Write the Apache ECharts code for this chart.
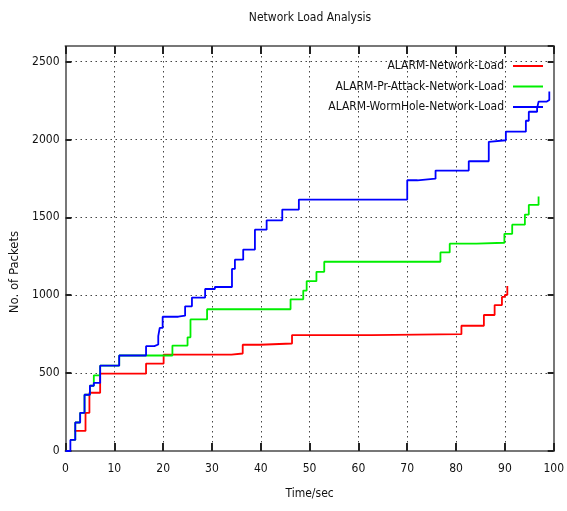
<!DOCTYPE html>
<html>
<head>
<meta charset="utf-8">
<script src="https://cdn.jsdelivr.net/npm/echarts@6/dist/echarts.min.js"></script>
<style>html,body{margin:0;padding:0;background:#fff}#c{width:567px;height:511px}</style>
</head>
<body>
<div id="c"></div>
<script>
const seriesNames = ['ALARM-Network-Load', 'ALARM-Pr-Attack-Network-Load', 'ALARM-WormHole-Network-Load'];
const xTicks = [0, 10, 20, 30, 40, 50, 60, 70, 80, 90, 100];
const yTicks = [0, 500, 1000, 1500, 2000, 2500];

const redT = [1.8, 4.1, 4.9, 7.1, 16.5, 20.1, 34.0, 36.3, 39.9, 46.4, 62.7, 81.1, 85.7, 87.9, 89.4, 90.0, 90.5];
const redV = [129, 245, 374, 497, 561, 619, 626, 682, 690, 744, 750, 804, 873, 937, 989, 1002, 1060];

const greenT = [1.0, 2.0, 3.0, 3.9, 5.0, 5.8, 7.1, 11.0, 21.9, 25.0, 25.6, 29.0, 46.1, 48.7, 49.4, 51.4, 53.0, 76.8, 78.7, 84.2, 89.9, 91.5, 94.1, 94.9, 96.9];
const greenV = [71, 183, 245, 361, 419, 486, 548, 613, 677, 730, 845, 910, 974, 1030, 1090, 1150, 1215, 1275, 1331, 1337, 1394, 1453, 1518, 1580, 1634];

const blueT = [0, 1.0, 2.0, 3.0, 3.9, 5.0, 5.8, 7.1, 11.0, 16.5, 18.2, 19.0, 19.3, 19.9, 23.1, 24.5, 25.9, 28.6, 30.6, 34.1, 34.7, 36.4, 38.8, 41.2, 44.4, 47.8, 70.0, 72.1, 75.8, 82.6, 86.7, 87.0, 90.2, 94.3, 94.9, 96.6, 96.9, 98.6, 99.1];
const blueV = [0, 71, 183, 245, 361, 419, 437, 548, 613, 673, 684, 737, 790, 862, 869, 929, 985, 1040, 1053, 1169, 1228, 1293, 1421, 1481, 1550, 1614, 1738, 1748, 1800, 1860, 1985, 1995, 2050, 2120, 2178, 2200, 2243, 2254, 2308];

const pair = (t, v) => t.map((x, i) => [x, v[i]]);
const FONT = '"DejaVu Sans Condensed", "Liberation Sans", sans-serif';
const colors = ['#ff0000', '#00ee00', '#0000ff'];

const chart = echarts.init(document.getElementById('c'), null, {renderer: 'canvas'});
const baseX = {
  type: 'value', min: xTicks[0], max: xTicks[xTicks.length - 1], interval: 10,
  axisLine: {show: true, onZero: false, lineStyle: {color: '#777', width: 2}},
  axisTick: {show: true, inside: true, length: 8, lineStyle: {color: '#222', width: 2}},
  splitLine: {show: false}
};
const baseY = {
  type: 'value', min: 0, max: 2600, interval: 500,
  axisLine: {show: true, onZero: false, lineStyle: {color: '#777', width: 2}},
  axisTick: {show: true, inside: true, length: 6, lineStyle: {color: '#222', width: 2}},
  splitLine: {show: false}
};
chart.setOption({
  animation: false,
  backgroundColor: '#fff',
  title: {
    text: 'Network Load Analysis', left: 305, top: 7, textAlign: 'center',
    textStyle: {fontFamily: FONT, fontSize: 12, fontWeight: 'normal', color: '#111'}
  },
  legend: {
    orient: 'vertical', right: 19, top: 55, align: 'right',
    icon: 'rect', itemWidth: 30, itemHeight: 2, itemGap: 8.5,
    data: seriesNames,
    textStyle: {fontFamily: FONT, fontSize: 12, color: '#111', padding: [0, 4, 0, 0]}
  },
  grid: {left: 65.5, right: 11, top: 46, bottom: 60, containLabel: false},
  xAxis: [
    Object.assign({}, baseX, {
      position: 'bottom',
      name: 'Time/sec', nameLocation: 'middle', nameGap: 37,
      nameTextStyle: {fontFamily: FONT, fontSize: 12, color: '#111'},
      axisLabel: {show: true, margin: 12, fontFamily: FONT, fontSize: 12, color: '#111',
        formatter: v => xTicks.includes(v) ? String(v) : ''},
      splitLine: {show: true, lineStyle: {color: '#444', width: 1, type: [1.5, 3.5]}}
    }),
    Object.assign({}, baseX, {position: 'top', axisLabel: {show: false}})
  ],
  yAxis: [
    Object.assign({}, baseY, {
      position: 'left',
      axisLabel: {show: true, margin: 6, fontFamily: FONT, fontSize: 12, color: '#111',
        showMaxLabel: false,
        formatter: v => yTicks.includes(v) ? String(v) : ''},
      splitLine: {show: true, lineStyle: {color: '#444', width: 1, type: [1.5, 3.5]}}
    }),
    Object.assign({}, baseY, {position: 'right', axisLabel: {show: false}})
  ],
  graphic: [{
    type: 'text', x: 15, y: 272, rotation: Math.PI / 2,
    style: {text: 'No. of Packets', fontFamily: FONT, fontSize: 13, fill: '#111',
      align: 'center', verticalAlign: 'middle'}
  }],
  series: [
    {name: seriesNames[0], type: 'line', step: 'end', symbol: 'none', data: pair(redT, redV),
      lineStyle: {color: colors[0], width: 1.8}, itemStyle: {color: colors[0]}},
    {name: seriesNames[1], type: 'line', step: 'end', symbol: 'none', data: pair(greenT, greenV),
      lineStyle: {color: colors[1], width: 1.8}, itemStyle: {color: colors[1]}},
    {name: seriesNames[2], type: 'line', step: 'end', symbol: 'none', data: pair(blueT, blueV),
      lineStyle: {color: colors[2], width: 1.8}, itemStyle: {color: colors[2]}}
  ]
});
</script>
</body>
</html>
